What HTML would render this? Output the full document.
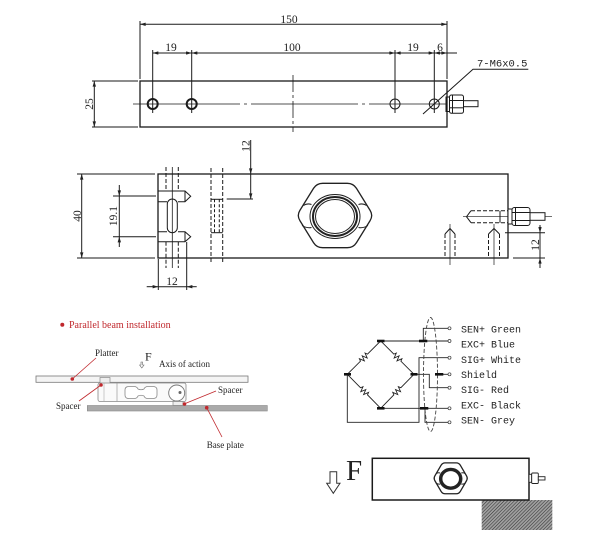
<!DOCTYPE html>
<html><head><meta charset="utf-8"><style>
html,body{margin:0;padding:0;background:#fff;}
svg{display:block;}
</style></head><body>
<svg width="600" height="553" viewBox="0 0 600 553" xmlns="http://www.w3.org/2000/svg">
<defs>
<marker id="ar" viewBox="0 0 10 6" refX="10" refY="3" markerWidth="6" markerHeight="3.4" orient="auto-start-reverse" markerUnits="userSpaceOnUse"><path d="M0,0L10,3L0,6z" fill="#222"/></marker>
<pattern id="hatch" width="2.4" height="2.4" patternUnits="userSpaceOnUse" patternTransform="rotate(45)"><rect width="2.4" height="2.4" fill="#a0a0a0"/><line x1="0" y1="0" x2="0" y2="2.4" stroke="#333" stroke-width="1.1"/></pattern>
<g id="hexs" fill="none" stroke="#222">
<path vector-effect="non-scaling-stroke" stroke-width="1.3" d="M-12.3,-32.2 L12.3,-32.2 Q18.3,-32.2 21.5,-27.1 L35.1,-5.1 Q38.3,0 35.1,5.1 L21.5,27.1 Q18.3,32.2 12.3,32.2 L-12.3,32.2 Q-18.3,32.2 -21.5,27.1 L-35.1,5.1 Q-38.3,0 -35.1,-5.1 L-21.5,-27.1 Q-18.3,-32.2 -12.3,-32.2 Z"/>
<ellipse vector-effect="non-scaling-stroke" cx="0" cy="1" rx="25" ry="22" stroke-width="1"/>
<ellipse vector-effect="non-scaling-stroke" cx="0" cy="1" rx="22" ry="19.5" stroke-width="2"/>
<ellipse vector-effect="non-scaling-stroke" cx="0" cy="1" rx="19.5" ry="17" stroke-width="1"/>
<path vector-effect="non-scaling-stroke" stroke-width="1" d="M-31.5,-10 Q-28,-12.5 -23.5,-11 M-33,10 Q-28,13 -23.5,12 M31.5,-10 Q28,-12.5 23.5,-11 M33,10 Q28,13 23.5,12"/>
</g>
</defs>

<g stroke="#1a1a1a" fill="none" stroke-width="1">
<!-- ========== TOP VIEW ========== -->
<rect x="140" y="81" width="307" height="46" stroke-width="1.3"/>
<!-- 150 dim -->
<line x1="140" y1="21" x2="140" y2="79"/>
<line x1="447" y1="21" x2="447" y2="79"/>
<line x1="140" y1="24.3" x2="447" y2="24.3" marker-start="url(#ar)" marker-end="url(#ar)"/>
<!-- ext lines for holes -->
<line x1="152.7" y1="50" x2="152.7" y2="113"/>
<line x1="191.7" y1="50" x2="191.7" y2="113"/>
<line x1="395" y1="50" x2="395" y2="113"/>
<line x1="434.3" y1="50" x2="434.3" y2="113"/>
<line x1="152.7" y1="53" x2="191.7" y2="53" marker-start="url(#ar)" marker-end="url(#ar)"/>
<line x1="191.7" y1="53" x2="395" y2="53" marker-start="url(#ar)" marker-end="url(#ar)"/>
<line x1="395" y1="53" x2="434.3" y2="53" marker-start="url(#ar)" marker-end="url(#ar)"/>
<line x1="434.3" y1="53" x2="447" y2="53" marker-start="url(#ar)" marker-end="url(#ar)"/>
<line x1="447" y1="53" x2="457" y2="53"/>
<!-- centerlines -->
<line x1="133" y1="104" x2="447" y2="104" stroke-width="0.8" stroke-dasharray="107,4,3,4"/>
<line x1="293" y1="75" x2="293" y2="132" stroke-width="0.8" stroke-dasharray="17,3,3,3"/>
<!-- holes -->
<circle cx="152.7" cy="104" r="5" stroke-width="2"/>
<circle cx="191.7" cy="104" r="5" stroke-width="2"/>
<circle cx="395" cy="104" r="5"/>
<circle cx="434.3" cy="104" r="5"/>
<!-- 25 dim -->
<line x1="92" y1="81" x2="138" y2="81"/>
<line x1="92" y1="127" x2="138" y2="127"/>
<line x1="94.3" y1="81" x2="94.3" y2="127" marker-start="url(#ar)" marker-end="url(#ar)"/>
<!-- leader -->
<polyline points="528.3,69.3 473,69.3 423,114"/>
<!-- connector -->
<rect x="446" y="97" width="3.5" height="14.5"/>
<rect x="449.5" y="95" width="14" height="18.3" rx="2"/>
<line x1="449.5" y1="100.5" x2="463.5" y2="100.5"/>
<line x1="449.5" y1="107.8" x2="463.5" y2="107.8"/>
<line x1="452.5" y1="95" x2="452.5" y2="113.3"/>
<rect x="463.5" y="100.7" width="14.5" height="6"/>

<!-- ========== MIDDLE VIEW ========== -->
<rect x="158" y="174" width="350" height="84" stroke-width="1.3"/>
<!-- 40 dim -->
<line x1="77" y1="174" x2="155" y2="174"/>
<line x1="77" y1="258" x2="155" y2="258"/>
<line x1="81.7" y1="174" x2="81.7" y2="258" marker-start="url(#ar)" marker-end="url(#ar)"/>
<!-- 19.1 dim -->
<line x1="113" y1="196" x2="156" y2="196"/>
<line x1="113" y1="236.7" x2="156" y2="236.7"/>
<line x1="119.3" y1="185" x2="119.3" y2="196" marker-end="url(#ar)"/>
<line x1="119.3" y1="196" x2="119.3" y2="236.7"/>
<line x1="119.3" y1="247" x2="119.3" y2="236.7" marker-end="url(#ar)"/>
<!-- left features -->
<line x1="172.3" y1="167" x2="172.3" y2="268" stroke-width="0.8"/>
<line x1="166" y1="167" x2="166" y2="191" stroke-dasharray="4,2"/>
<line x1="178.3" y1="167" x2="178.3" y2="191" stroke-dasharray="4,2"/>
<line x1="166" y1="241.7" x2="166" y2="268" stroke-dasharray="4,2"/>
<line x1="178.3" y1="241.7" x2="178.3" y2="268" stroke-dasharray="4,2"/>
<path d="M158,191 H185 L190.7,196.3 L185,201.7 H178 M167,201.7 H158"/>
<line x1="185" y1="191" x2="185" y2="201.7"/>
<path d="M158,231.7 H167 M178,231.7 H185 L190.7,236.7 L185,241.7 H158"/>
<line x1="185" y1="231.7" x2="185" y2="241.7"/>
<rect x="167.3" y="199" width="10" height="33.7" rx="5"/>
<!-- second column -->
<line x1="211" y1="168" x2="211" y2="263" stroke-dasharray="4,2"/>
<line x1="222.7" y1="168" x2="222.7" y2="263" stroke-dasharray="4,2"/>
<line x1="214.5" y1="199.3" x2="214.5" y2="232.7" stroke-dasharray="3,2"/>
<line x1="219.3" y1="199.3" x2="219.3" y2="232.7" stroke-dasharray="3,2"/>
<line x1="211" y1="199.3" x2="222.7" y2="199.3"/>
<line x1="211" y1="232.7" x2="222.7" y2="232.7"/>
<!-- top 12 dim -->
<line x1="226.7" y1="199" x2="253" y2="199"/>
<line x1="250.7" y1="140" x2="250.7" y2="174" marker-end="url(#ar)"/>
<line x1="250.7" y1="174" x2="250.7" y2="199" marker-end="url(#ar)"/>
<!-- bottom 12 dim -->
<line x1="158.3" y1="259" x2="158.3" y2="290"/>
<line x1="186.7" y1="242" x2="186.7" y2="290"/>
<line x1="146.7" y1="286.7" x2="158.3" y2="286.7" marker-end="url(#ar)"/>
<line x1="158.3" y1="286.7" x2="186.7" y2="286.7"/>
<line x1="196.7" y1="286.7" x2="186.7" y2="286.7" marker-end="url(#ar)"/>
<!-- right threaded hole -->
<line x1="463" y1="216.7" x2="552" y2="216.7" stroke-width="0.7"/>
<line x1="471" y1="210.7" x2="508" y2="210.7" stroke-dasharray="4,2"/>
<line x1="471" y1="222.7" x2="508" y2="222.7" stroke-dasharray="4,2"/>
<path d="M471,210.7 L466.5,216.7 L471,222.7"/>
<line x1="500" y1="210.7" x2="500" y2="222.7"/>
<!-- connector -->
<rect x="508" y="209" width="4" height="15" fill="#fff"/>
<rect x="512" y="207.5" width="18" height="18" rx="2.5" fill="#fff"/>
<line x1="512" y1="212.5" x2="530" y2="212.5"/>
<line x1="512" y1="220.5" x2="530" y2="220.5"/>
<line x1="515.5" y1="207.5" x2="515.5" y2="225.5"/>
<rect x="530" y="212.7" width="15" height="7.6" fill="#fff"/>
<!-- right holes -->
<line x1="450" y1="224" x2="450" y2="265" stroke-width="0.7"/>
<line x1="445" y1="234" x2="445" y2="258" stroke-dasharray="4,2"/>
<line x1="455" y1="234" x2="455" y2="258" stroke-dasharray="4,2"/>
<path d="M445,234 L450,228.5 L455,234"/>
<line x1="494" y1="224" x2="494" y2="265" stroke-width="0.7"/>
<line x1="488.5" y1="234" x2="488.5" y2="258" stroke-dasharray="4,2"/>
<line x1="499.5" y1="234" x2="499.5" y2="258" stroke-dasharray="4,2"/>
<path d="M488.5,234 L494,228.5 L499.5,234"/>
<!-- right 12 dim -->
<line x1="505" y1="232.7" x2="545" y2="232.7"/>
<line x1="513" y1="258" x2="545" y2="258"/>
<line x1="540" y1="225" x2="540" y2="232.7" marker-end="url(#ar)"/>
<line x1="540" y1="232.7" x2="540" y2="258"/>
<line x1="540" y1="268" x2="540" y2="258" marker-end="url(#ar)"/>
</g>
<use href="#hexs" transform="translate(335,215.5)"/>

<!-- dimension texts -->
<g font-family="'Liberation Serif', serif" font-size="11.5" fill="#222" text-anchor="middle">
<text x="289" y="23">150</text>
<text x="171" y="51">19</text>
<text x="292" y="51">100</text>
<text x="413" y="51">19</text>
<text x="440" y="51">6</text>
<text transform="translate(93,104) rotate(-90)">25</text>
<text transform="translate(81,216) rotate(-90)">40</text>
<text transform="translate(117,216) rotate(-90)">19.1</text>
<text transform="translate(249.5,146) rotate(-90)">12</text>
<text transform="translate(539,245) rotate(-90)">12</text>
<text x="172" y="285">12</text>
</g>
<text x="477" y="66.5" font-family="'Liberation Mono', monospace" font-size="10.5" fill="#222">7-M6x0.5</text>

<!-- ========== INSTALLATION ========== -->
<circle cx="62.3" cy="324.7" r="2" fill="#c0282d"/>
<text x="69" y="328" font-family="'Liberation Serif', serif" font-size="10" fill="#c0282d">Parallel beam installation</text>
<rect x="36" y="376" width="212" height="6.3" fill="#f4f4f4" stroke="#777" stroke-width="0.8"/>
<rect x="100" y="377.5" width="10" height="6" fill="#eee" stroke="#888" stroke-width="0.7"/>
<rect x="98" y="383" width="88" height="18.5" rx="2" fill="#fafafa" stroke="#888" stroke-width="0.8"/>
<line x1="117" y1="383" x2="117" y2="401.5" stroke="#999" stroke-width="0.7"/>
<line x1="104" y1="383" x2="104" y2="401.5" stroke="#aaa" stroke-width="0.6"/>
<path d="M129,386.5 H134 Q137,386.5 138,389 Q141,390.5 144,389 Q145,386.5 148,386.5 H153 Q157,386.5 157,390 V395 Q157,398.5 153,398.5 H148 Q145,398.5 144,396 Q141,394.5 138,396 Q137,398.5 134,398.5 H129 Q125,398.5 125,395 V390 Q125,386.5 129,386.5 Z" fill="#fff" stroke="#888" stroke-width="0.8"/>
<circle cx="176.7" cy="393" r="8" fill="#fff" stroke="#777" stroke-width="0.9"/>
<circle cx="180" cy="392.5" r="1.5" fill="#666"/>
<rect x="173" y="401.5" width="10" height="4" fill="#eee" stroke="#888" stroke-width="0.7"/>
<rect x="87.3" y="405.5" width="180" height="5.5" fill="#aaa" stroke="#888" stroke-width="0.6"/>
<g stroke="#c0282d" stroke-width="0.8">
<line x1="72.3" y1="379" x2="96" y2="358"/>
<line x1="101" y1="385" x2="79" y2="401"/>
<line x1="184" y1="404" x2="216" y2="391"/>
<line x1="206.7" y1="407.7" x2="222" y2="437"/>
</g>
<g fill="#c0282d">
<circle cx="72.3" cy="379" r="1.8"/>
<circle cx="101" cy="385" r="1.8"/>
<circle cx="184.5" cy="404" r="1.8"/>
<circle cx="206.7" cy="407.7" r="1.8"/>
</g>
<g font-family="'Liberation Serif', serif" font-size="9" fill="#222">
<text x="95" y="356">Platter</text>
<text x="159" y="367">Axis of action</text>
<text x="56" y="409">Spacer</text>
<text x="218" y="393">Spacer</text>
<text x="206.7" y="448">Base plate</text>
<text x="145" y="360.5" font-size="12">F</text>
</g>
<path d="M141,362 H142.6 V365 H144 L141.8,368 L139.6,365 H141 Z" fill="#fff" stroke="#666" stroke-width="0.6"/>

<!-- ========== WIRING ========== -->
<g stroke="#222" fill="none" stroke-width="0.9">
<g transform="translate(364,357.65) rotate(-45)"><path d="M-23.6,0 H-5 l1,-2.5 l2,5 l2,-5 l2,5 l2,-5 l1,2.5 H23.6"/></g>
<g transform="translate(397.35,357.65) rotate(45)"><path d="M-23.6,0 H-5 l1,-2.5 l2,5 l2,-5 l2,5 l2,-5 l1,2.5 H23.6"/></g>
<g transform="translate(364,391.3) rotate(45.5)"><path d="M-23.8,0 H-5 l1,-2.5 l2,5 l2,-5 l2,5 l2,-5 l1,2.5 H23.8"/></g>
<g transform="translate(397.35,391.3) rotate(-45.6)"><path d="M-23.8,0 H-5 l1,-2.5 l2,5 l2,-5 l2,5 l2,-5 l1,2.5 H23.8"/></g>
<line x1="380.7" y1="341" x2="448" y2="341"/>
<polyline points="423.3,341 423.3,328.3 448,328.3"/>
<polyline points="448,357.7 419,357.7 419,422.3 347.3,422.3 347.3,374.3"/>
<polyline points="414,374.3 429.3,374.3 429.3,387.7 448,387.7"/>
<line x1="441" y1="374.3" x2="448" y2="374.3"/>
<line x1="380.7" y1="408.3" x2="448" y2="408.3"/>
<polyline points="448,422.3 425,422.3 425,408.3"/>
<ellipse cx="430.5" cy="374.5" rx="7" ry="57" stroke="#444" stroke-dasharray="4,2"/>
</g>
<g stroke="#111" stroke-width="2.6">
<line x1="344" y1="374.3" x2="351" y2="374.3"/>
<line x1="377" y1="341" x2="384.5" y2="341"/>
<line x1="410.5" y1="374.3" x2="417.5" y2="374.3"/>
<line x1="377" y1="408.3" x2="384.5" y2="408.3"/>
<line x1="419" y1="341" x2="427.3" y2="341"/>
<line x1="420" y1="408.3" x2="428.3" y2="408.3"/>
<line x1="435" y1="374.3" x2="443.3" y2="374.3"/>
</g>
<g fill="#fff" stroke="#333" stroke-width="0.7">
<circle cx="449.5" cy="328.3" r="1.5"/>
<circle cx="449.5" cy="341" r="1.5"/>
<circle cx="449.5" cy="357.7" r="1.5"/>
<circle cx="449.5" cy="374.3" r="1.5"/>
<circle cx="449.5" cy="387.7" r="1.5"/>
<circle cx="449.5" cy="408.3" r="1.5"/>
<circle cx="449.5" cy="422.3" r="1.5"/>
</g>
<g font-family="'Liberation Mono', monospace" font-size="10" fill="#222">
<text x="461" y="332.5">SEN+ Green</text>
<text x="461" y="347.7">EXC+ Blue</text>
<text x="461" y="362.9">SIG+ White</text>
<text x="461" y="378">Shield</text>
<text x="461" y="393">SIG- Red</text>
<text x="461" y="408.5">EXC- Black</text>
<text x="461" y="423.7">SEN- Grey</text>
</g>

<!-- ========== FORCE VIEW ========== -->
<path d="M330,471.7 H336.7 V483.3 H340 L333.3,493.3 L326.7,483.3 H330 Z" fill="#fff" stroke="#333" stroke-width="1"/>
<text x="346" y="480" font-family="'Liberation Serif', serif" font-size="29" fill="#222">F</text>
<rect x="481.7" y="500" width="70.6" height="30" fill="url(#hatch)"/>
<rect x="372.3" y="458.3" width="156.7" height="41.7" fill="#fff" stroke="#1a1a1a" stroke-width="1.5"/>
<use href="#hexs" transform="translate(450.7,478.3) scale(0.45,0.48)"/>
<g stroke="#222" stroke-width="0.9" fill="#fff">
<rect x="529" y="474.3" width="2.7" height="8"/>
<rect x="531.7" y="473" width="6.6" height="10.5" rx="1"/>
<rect x="538.3" y="476.7" width="6.7" height="3.3"/>
</g>
</svg>
</body></html>
